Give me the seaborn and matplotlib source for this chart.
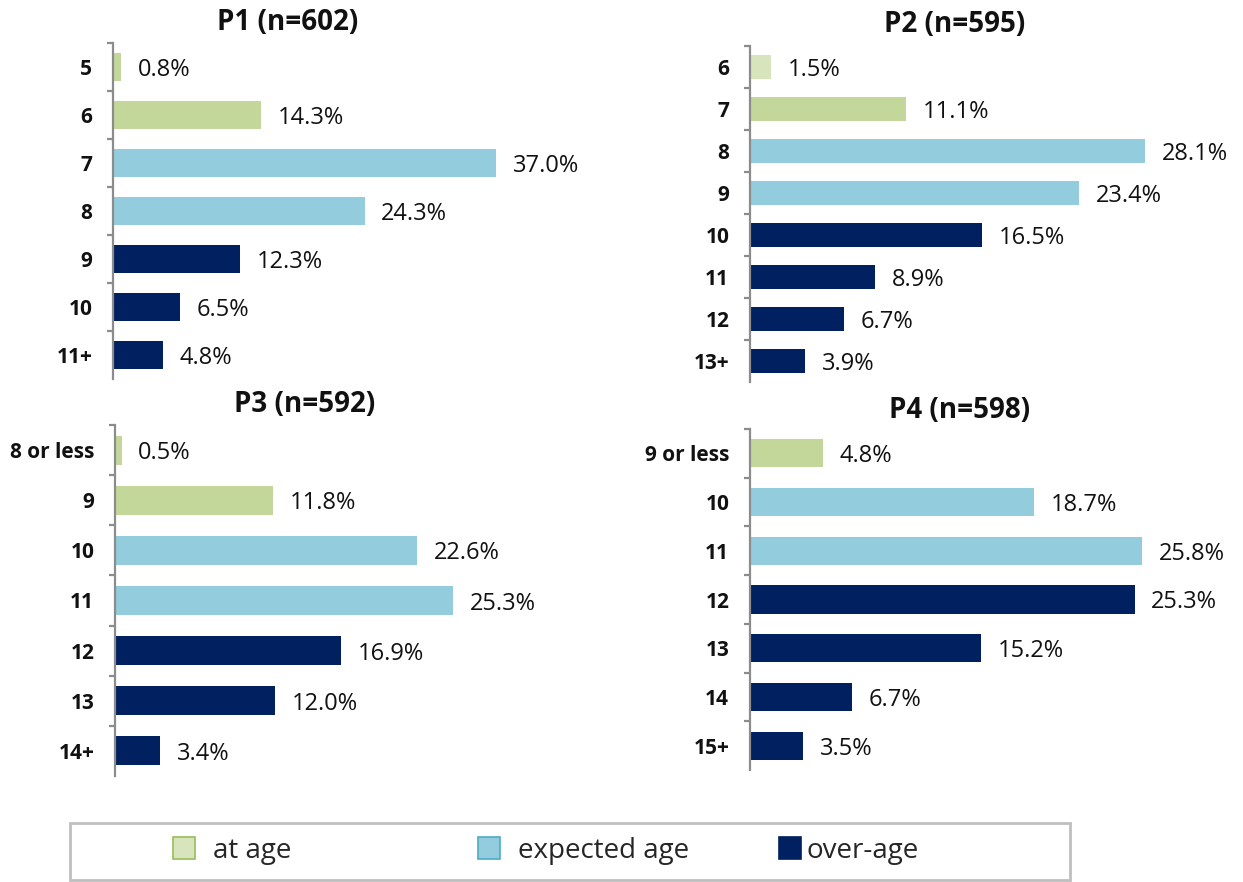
import matplotlib
matplotlib.use("Agg")
import matplotlib.pyplot as plt
import seaborn as sns
from matplotlib.patches import Patch, Rectangle
from matplotlib.ticker import FixedLocator

# ---------------- data ----------------
p1_ages = ["5", "6", "7", "8", "9", "10", "11+"]
p1_vals = [0.8, 14.3, 37.0, 24.3, 12.3, 6.5, 4.8]
p1_grp = ["at age", "at age", "expected age", "expected age", "over-age", "over-age", "over-age"]

p2_ages = ["6", "7", "8", "9", "10", "11", "12", "13+"]
p2_vals = [1.5, 11.1, 28.1, 23.4, 16.5, 8.9, 6.7, 3.9]
p2_grp = ["at age (light)", "at age", "expected age", "expected age", "over-age", "over-age", "over-age", "over-age"]

p3_ages = ["8 or less", "9", "10", "11", "12", "13", "14+"]
p3_vals = [0.5, 11.8, 22.6, 25.3, 16.9, 12.0, 3.4]
p3_grp = ["at age", "at age", "expected age", "expected age", "over-age", "over-age", "over-age"]

p4_ages = ["9 or less", "10", "11", "12", "13", "14", "15+"]
p4_vals = [4.8, 18.7, 25.8, 25.3, 15.2, 6.7, 3.5]
p4_grp = ["at age", "expected age", "expected age", "over-age", "over-age", "over-age", "over-age"]

titles = ["P1 (n=602)", "P2 (n=595)", "P3 (n=592)", "P4 (n=598)"]
legend_labels = ["at age", "expected age", "over-age"]

# ---------------- style ----------------
colors = {"at age": "#c4d79b", "at age (light)": "#d8e4bc",
          "expected age": "#93cddd", "over-age": "#002060"}
legend_face = ["#d8e4bc", "#93cddd", "#002060"]
legend_edge = ["#9bbb59", "#4bacc6", "#002060"]

sns.set_theme(style="white")
plt.rcParams["font.family"] = ["Open Sans", "DejaVu Sans"]

W, H = 1243, 882
fig = plt.figure(figsize=(W / 100, H / 100), dpi=100)

# panel geometry in pixels: left, right, top, bottom, px per percent
geo = [
    (113, 600, 43, 379, 10.35),
    (750, 1240, 46, 382, 14.07),
    (115, 600, 425, 776, 13.36),
    (750, 1240, 429, 770, 15.2),
]
title_pos = [(288, 22), (955, 25), (305, 405), (960, 410)]

panels = [(p1_ages, p1_vals, p1_grp), (p2_ages, p2_vals, p2_grp),
          (p3_ages, p3_vals, p3_grp), (p4_ages, p4_vals, p4_grp)]

for (ages, vals, grp), (l, r, t, b, scale), title, (tx, ty) in zip(panels, geo, titles, title_pos):
    ax = fig.add_axes([l / W, 1 - b / H, (r - l) / W, (b - t) / H])
    pal = [colors[g] for g in grp]
    sns.barplot(x=vals, y=ages, hue=ages, palette=pal, legend=False, saturation=1,
                orient="h", width=0.58, linewidth=0, ax=ax)
    for cont in ax.containers:
        labs = ax.bar_label(cont, fmt="%.1f%%", padding=12, fontsize=17, color="#111111")
        for lb in labs:
            lb.set_va("center_baseline")
    n = len(ages)
    ax.set_xlim(0, (r - l) / scale)
    ax.set_ylim(n - 0.5, -0.5)
    ax.set_xlabel("")
    ax.set_ylabel("")
    ax.set_xticks([])
    for s in ["top", "right", "bottom"]:
        ax.spines[s].set_visible(False)
    ax.spines["left"].set_color("#8c8c8c")
    ax.spines["left"].set_linewidth(1.6)
    ax.yaxis.set_minor_locator(FixedLocator([i - 0.5 for i in range(n)]))
    ax.tick_params(axis="y", which="major", length=0, pad=15,
                   labelsize=15, labelcolor="#111111")
    ax.tick_params(axis="y", which="minor", length=4.5, width=1.6,
                   color="#8c8c8c", direction="out", left=True)
    for lab in ax.get_yticklabels():
        lab.set_fontweight("bold")
        lab.set_va("center_baseline")
    fig.text(tx / W, 1 - ty / H, title, ha="center", va="center",
             fontsize=20, fontweight="bold", color="#111111")

# ---------------- legend ----------------
fig.add_artist(Rectangle((70 / W, 1 - 880 / H), 1000 / W, 57 / H,
                         transform=fig.transFigure, fill=False,
                         edgecolor="#bfbfbf", linewidth=2))
leg_x = [173, 478, 779]
leg_pad = [0.65, 0.65, 0.2]
for lab, fc, ec, x, pad in zip(legend_labels, legend_face, legend_edge, leg_x, leg_pad):
    h = Patch(facecolor=fc, edgecolor=ec, linewidth=1.2)
    fig.legend([h], [lab], loc="center left", bbox_to_anchor=(x / W, 1 - 851 / H),
               frameon=False, fontsize=20, handlelength=0.8, handleheight=0.85,
               handletextpad=pad, borderpad=0, borderaxespad=0)

fig.savefig("out.png", dpi=100)
